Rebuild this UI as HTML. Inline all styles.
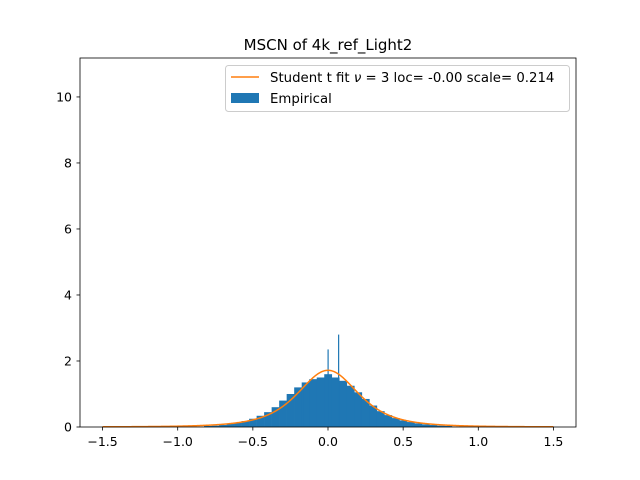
<!DOCTYPE html>
<html><head><meta charset="utf-8"><style>
body{margin:0;background:#fff;}
svg{display:block;font-family:"DejaVu Sans","Liberation Sans",sans-serif;}
</style></head><body>
<svg id="chart" width="640" height="480">
<rect width="640" height="480" fill="#fff"/>
<text x="328" y="50" font-size="15" text-anchor="middle">MSCN of 4k_ref_Light2</text>
<g id="bars"></g>
<g id="spikes"></g>
<path id="fit" fill="none" stroke="#ff7f0e" stroke-width="1.5"/>
<rect x="80" y="58" width="496" height="369" fill="none" stroke="#000" stroke-width="0.8"/>
<g id="xt"></g>
<g id="yt"></g>
<g>
<rect x="225.5" y="65.5" width="344" height="46" rx="3" fill="#fff" fill-opacity="0.8" stroke="#ccc"/>
<line x1="231" y1="77" x2="259" y2="77" stroke="#ff7f0e" stroke-width="1.5"/>
<text x="270" y="82" font-size="13.3">Student t fit <tspan font-style="italic">ν</tspan> = 3 loc= -0.00 scale= 0.214</text>
<rect x="231" y="93" width="28" height="10" fill="#1f77b4"/>
<text x="270" y="103" font-size="13.3">Empirical</text>
</g>
</svg>
<script>
const binCenters=[-0.80,-0.75,-0.70,-0.65,-0.60,-0.55,-0.50,-0.45,-0.40,-0.35,-0.30,-0.25,-0.20,-0.15,-0.10,-0.05,0.00,0.05,0.10,0.15,0.20,0.25,0.30,0.35,0.40,0.45,0.50,0.55,0.60,0.65,0.70,0.75,0.80];
const binHeights=[0.03,0.04,0.06,0.09,0.13,0.18,0.25,0.34,0.45,0.6,0.8,1.0,1.2,1.35,1.45,1.5,1.6,1.5,1.4,1.25,1.05,0.85,0.65,0.48,0.36,0.27,0.2,0.15,0.11,0.08,0.06,0.04,0.03];
const binWidth=[0.05];
const spikeX=[0.0,0.07,-0.17,0.22];
const spikeH=[2.35,2.8,1.15,1.05];
const fitNu=[3];const fitLoc=[0.0];const fitScale=[0.214];
const xTicks=[-1.5,-1.0,-0.5,0.0,0.5,1.0,1.5];
const xTickLabels=["−1.5","−1.0","−0.5","0.0","0.5","1.0","1.5"];
const yTicks=[0,2,4,6,8,10];
const yTickLabels=["0","2","4","6","8","10"];
const NS="http://www.w3.org/2000/svg";
const X=v=>80+(v+1.65)/3.3*496;
const Y=v=>427-v/11.18*369;
const bars=document.getElementById('bars');
binCenters.forEach((c,i)=>{const r=document.createElementNS(NS,'rect');
r.setAttribute('x',X(c-binWidth[0]/2));r.setAttribute('width',X(c+binWidth[0]/2)-X(c-binWidth[0]/2)+0.3);
r.setAttribute('y',Y(binHeights[i]));r.setAttribute('height',Y(0)-Y(binHeights[i]));r.setAttribute('fill','#1f77b4');


bars.appendChild(r);});
const sp=document.getElementById('spikes');
spikeX.forEach((c,i)=>{const r=document.createElementNS(NS,'rect');
r.setAttribute('x',X(c)-0.5);r.setAttribute('width',1.2);r.setAttribute('y',Y(spikeH[i]));r.setAttribute('height',Y(0)-Y(spikeH[i]));r.setAttribute('fill','#1f77b4');


sp.appendChild(r);});
function tpdf(x){const n=fitNu[0],s=fitScale[0],z=(x-fitLoc[0])/s;
const c=Math.exp(lg((n+1)/2)-lg(n/2))/Math.sqrt(n*Math.PI);return c*Math.pow(1+z*z/n,-(n+1)/2)/s;}
function lg(z){if(z===1||z===2)return 0;if(z===0.5)return Math.log(Math.sqrt(Math.PI));if(z===1.5)return Math.log(Math.sqrt(Math.PI)/2);
const g=7,p=[0.99999999999980993,676.5203681218851,-1259.1392167224028,771.32342877765313,-176.61502916214059,12.507343278686905,-0.13857109526572012,9.9843695780195716e-6,1.5056327351493116e-7];
z-=1;let a=p[0];const t=z+g+0.5;for(let i=1;i<9;i++)a+=p[i]/(z+i);return 0.5*Math.log(2*Math.PI)+(z+0.5)*Math.log(t)-t+Math.log(a);}
let d='';for(let i=0;i<=600;i++){const x=-1.5+3*i/600;d+=(i?'L':'M')+X(x).toFixed(2)+','+Y(tpdf(x)).toFixed(2);}
document.getElementById('fit').setAttribute('d',d);
const xt=document.getElementById('xt');
xTicks.forEach((v,i)=>{const l=document.createElementNS(NS,'line');l.setAttribute('x1',X(v));l.setAttribute('x2',X(v));l.setAttribute('y1',427);l.setAttribute('y2',430.5);l.setAttribute('stroke','#000');l.setAttribute('stroke-width','0.8');


xt.appendChild(l);
const t=document.createElementNS(NS,'text');t.setAttribute('x',X(v));t.setAttribute('y',446);t.setAttribute('font-size','12.5');t.setAttribute('text-anchor','middle');t.textContent=xTickLabels[i];


xt.appendChild(t);});
const yt=document.getElementById('yt');
yTicks.forEach((v,i)=>{const l=document.createElementNS(NS,'line');l.setAttribute('x1',76.5);l.setAttribute('x2',80);l.setAttribute('y1',Y(v));l.setAttribute('y2',Y(v));l.setAttribute('stroke','#000');l.setAttribute('stroke-width','0.8');


yt.appendChild(l);
const t=document.createElementNS(NS,'text');t.setAttribute('x',72);t.setAttribute('y',Y(v)+4.5);t.setAttribute('font-size','12.5');t.setAttribute('text-anchor','end');t.textContent=yTickLabels[i];


yt.appendChild(t);});
</script>
</body></html>
